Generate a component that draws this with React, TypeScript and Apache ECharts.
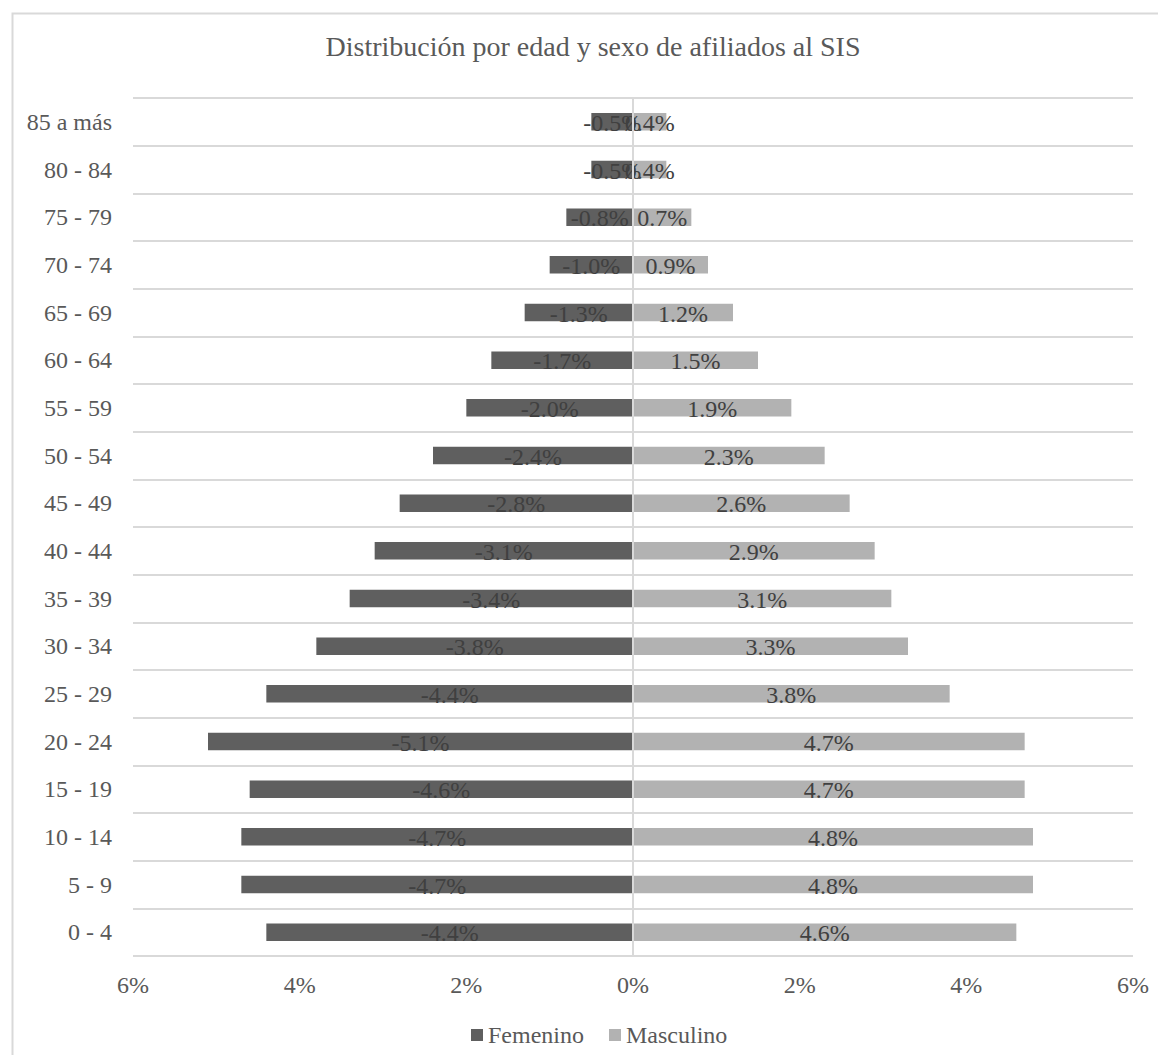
import React, { useEffect, useRef } from "react";
import * as echarts from "echarts";

// Age groups, bottom to top
const ageGroups = [
  "0 - 4", "5 - 9", "10 - 14", "15 - 19", "20 - 24", "25 - 29", "30 - 34",
  "35 - 39", "40 - 44", "45 - 49", "50 - 54", "55 - 59", "60 - 64",
  "65 - 69", "70 - 74", "75 - 79", "80 - 84", "85 a más",
];

// Share of affiliates (%), women drawn to the left as negatives
const femenino = [
  -4.4, -4.7, -4.7, -4.6, -5.1, -4.4, -3.8, -3.4, -3.1, -2.8, -2.4, -2.0,
  -1.7, -1.3, -1.0, -0.8, -0.5, -0.5,
];
const masculino = [
  4.6, 4.8, 4.8, 4.7, 4.7, 3.8, 3.3, 3.1, 2.9, 2.6, 2.3, 1.9, 1.5, 1.2, 0.9,
  0.7, 0.4, 0.4,
];

const axisTicks = { min: -6, max: 6, interval: 2 };

const FONT = "'Liberation Serif', 'Times New Roman', serif";
const TEXT = "#595959";

export default function App() {
  const ref = useRef<HTMLDivElement>(null);

  useEffect(() => {
    if (!ref.current) return;
    const chart = echarts.init(ref.current, undefined, { renderer: "svg" });
    const label = {
      show: true,
      position: "inside",
      offset: [0, 1],
      color: "#404040",
      fontFamily: FONT,
      fontSize: 24,
      formatter: (p: any) => `${Number(p.value).toFixed(1)}%`,
    };
    chart.setOption({
      animation: false,
      backgroundColor: "#ffffff",
      textStyle: { fontFamily: FONT },
      title: {
        text: "Distribución por edad y sexo de afiliados al SIS",
        left: 585,
        textAlign: "center",
        top: 24,
        padding: 0,
        textStyle: { fontFamily: FONT, fontSize: 28, fontWeight: "normal", color: TEXT },
      },
      legend: {
        top: 1015,
        left: 463,
        padding: 0,
        itemWidth: 12,
        itemHeight: 12,
        itemGap: 25,
        icon: "rect",
        textStyle: { fontFamily: FONT, fontSize: 24, color: TEXT, padding: [0, 0, 0, 0] },
        data: ["Femenino", "Masculino"],
      },
      grid: { left: 125, right: 25, top: 90, bottom: 99, containLabel: false },
      xAxis: {
        type: "value",
        min: axisTicks.min,
        max: axisTicks.max,
        interval: axisTicks.interval,
        axisLine: { show: false },
        axisTick: { show: false },
        splitLine: { show: false },
        axisLabel: {
          margin: 17,
          fontFamily: FONT,
          fontSize: 24,
          color: TEXT,
          formatter: (v: number) => `${Math.abs(v)}%`,
        },
      },
      yAxis: {
        type: "category",
        data: ageGroups,
        axisLine: { show: false },
        axisTick: { show: false },
        splitLine: { show: true, lineStyle: { color: "#d9d9d9", width: 2 } },
        axisLabel: { margin: 21, fontFamily: FONT, fontSize: 24, color: TEXT },
      },
      graphic: [
        {
          type: "rect",
          left: 2,
          top: 3,
          shape: { width: 1400, height: 1400 },
          style: { fill: "none", stroke: "#d9d9d9", lineWidth: 2 },
          silent: true,
          z: -1,
        },
      ],
      series: [
        {
          name: "Femenino",
          type: "bar",
          data: femenino,
          barWidth: 17.5,
          barGap: "-100%",
          itemStyle: { color: "#5f5f5f" },
          label,
          markLine: {
            silent: true,
            symbol: "none",
            label: { show: false },
            lineStyle: { color: "#d9d9d9", width: 2, type: "solid" },
            data: [{ xAxis: 0 }],
          },
        },
        {
          name: "Masculino",
          type: "bar",
          data: masculino,
          barWidth: 17.5,
          barGap: "-100%",
          itemStyle: { color: "#b2b2b2" },
          label,
        },
      ],
    });
    return () => chart.dispose();
  }, []);

  return <div ref={ref} style={{ width: 1150, height: 1047 }} />;
}
